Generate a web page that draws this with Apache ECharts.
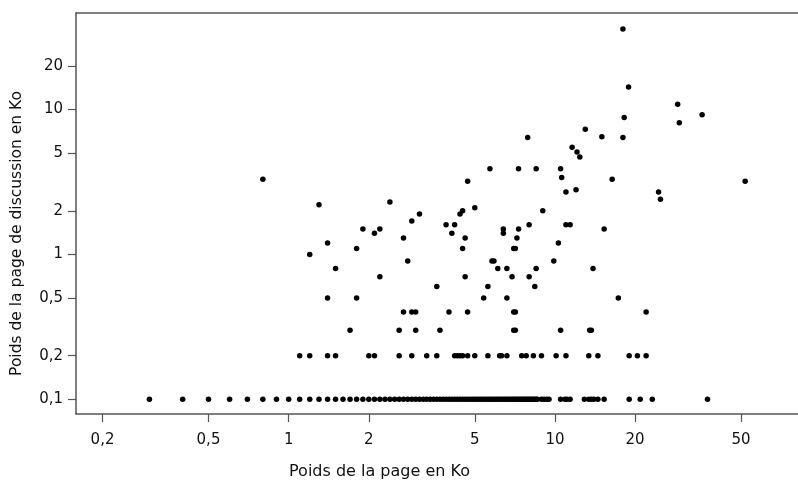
<!DOCTYPE html>
<html>
<head>
<meta charset="utf-8">
<script src="https://cdn.jsdelivr.net/npm/echarts@6/dist/echarts.min.js"></script>
<style>html,body{margin:0;padding:0;background:#fff}#c{width:798px;height:485px}</style>
</head>
<body>
<div id="c"></div>
<script>
// Poids de la page (Ko) for each discussion-page weight (Ko)
const row_0_1 = [0.3,0.4,0.5,0.6,0.7,0.8,0.9,1.0,1.1,1.2,1.3,1.4,1.5,1.6,1.7,1.8,1.9,2.0,2.1,2.2,2.3,2.4,2.5,2.6,2.7,2.8,2.9,3.0,3.1,3.2,3.3,3.4,3.5,3.6,3.7,3.8,3.9,4.0,4.1,4.2,4.3,4.4,4.5,4.6,4.7,4.8,4.9,5.0,5.1,5.2,5.3,5.4,5.5,5.6,5.7,5.8,5.9,6.0,6.1,6.2,6.3,6.4,6.5,6.6,6.7,6.8,6.9,7.0,7.1,7.2,7.3,7.4,7.5,7.6,7.7,7.8,7.9,8.0,8.1,8.2,8.3,8.4,8.5,8.6,8.9,9.1,9.3,9.5,10.5,10.9,11.1,11.4,12.9,13.4,13.7,14.0,14.5,15.3,19.0,20.9,23.2,37.4];
const row_0_2 = [1.1,1.2,1.4,1.5,2.0,2.1,2.6,2.9,3.3,3.6,4.2,4.3,4.4,4.5,4.7,5.0,5.6,6.2,6.3,6.6,7.5,7.8,8.3,8.9,10.1,11.0,13.4,14.5,19.0,20.4,22.0];
const row_0_3 = [1.7,2.6,3.0,3.7,7.0,7.1,10.5,13.5,13.7];
const row_0_4 = [2.7,2.9,3.0,4.0,4.7,7.0,7.1,22.0];
const row_0_5 = [1.4,1.8,5.4,6.6,17.3];
const row_0_6 = [3.6,5.6,8.4];
const row_0_7 = [2.2,4.6,6.9,8.0];
const row_0_8 = [1.5,6.1,6.6,8.5,13.9];
const row_0_9 = [2.8,5.8,5.9,9.9];
const row_1_0 = [1.2];
const row_1_1 = [1.8,4.5,7.0,7.1];
const row_1_2 = [1.4,10.3];
const row_1_3 = [2.7,4.6,7.2];
const row_1_4 = [2.1,4.1,6.4];
const row_1_5 = [1.9,2.2,6.4,7.3,15.3];
const row_1_6 = [3.9,4.2,8.0,11.0,11.4];
const row_1_7 = [2.9];
const row_1_9 = [3.1,4.4];
const row_2_0 = [4.5,9.0];
const row_2_1 = [5.0];
const row_2_2 = [1.3];
const row_2_3 = [2.4];
const row_2_4 = [24.9];
const row_2_7 = [11.0,24.5];
const row_2_8 = [12.0];
const row_3_2 = [4.7,51.8];
const row_3_3 = [0.8,16.4];
const row_3_4 = [10.6];
const row_3_9 = [5.7,7.3,8.5,10.5];
const row_4_7 = [12.4];
const row_5_1 = [12.1];
const row_5_5 = [11.6];
const row_6_4 = [7.9,18.0];
const row_6_5 = [15.0];
const row_7_3 = [13.0];
const row_8_1 = [29.3];
const row_8_8 = [18.2];
const row_9_2 = [35.7];
const row_10_9 = [28.9];
const row_14_3 = [18.9];
const row_36 = [18.0];

const rows = [
  [0.1,row_0_1],[0.2,row_0_2],[0.3,row_0_3],[0.4,row_0_4],[0.5,row_0_5],[0.6,row_0_6],
  [0.7,row_0_7],[0.8,row_0_8],[0.9,row_0_9],[1.0,row_1_0],[1.1,row_1_1],[1.2,row_1_2],
  [1.3,row_1_3],[1.4,row_1_4],[1.5,row_1_5],[1.6,row_1_6],[1.7,row_1_7],[1.9,row_1_9],
  [2.0,row_2_0],[2.1,row_2_1],[2.2,row_2_2],[2.3,row_2_3],[2.4,row_2_4],[2.7,row_2_7],
  [2.8,row_2_8],[3.2,row_3_2],[3.3,row_3_3],[3.4,row_3_4],[3.9,row_3_9],[4.7,row_4_7],
  [5.1,row_5_1],[5.5,row_5_5],[6.4,row_6_4],[6.5,row_6_5],[7.3,row_7_3],[8.1,row_8_1],
  [8.8,row_8_8],[9.2,row_9_2],[10.9,row_10_9],[14.3,row_14_3],[36,row_36]
];

const xTicks = [0.2,0.5,1,2,5,10,20,50];
const yTicks = [0.1,0.2,0.5,1,2,5,10,20];

const points = [];
rows.forEach(([y, xs]) => xs.forEach(x => points.push([x, y])));

const fmt = v => String(+(+v).toPrecision(6)).replace('.', ',');
const FONT = 'DejaVu Sans';
const axisCol = '#555';
const X_MIN = 0.159, X_MAX = 81.8;

const chart = echarts.init(document.getElementById('c'), null, {renderer: 'canvas'});
chart.setOption({
  animation: false,
  grid: {left: 76, top: 13, right: 0, height: 402, show: false},
  xAxis: [{
    type: 'log', min: X_MIN, max: X_MAX,
    name: 'Poids de la page en Ko', nameLocation: 'middle', nameGap: 50,
    nameTextStyle: {fontFamily: FONT, fontSize: 16, color: '#111', padding: [0, 115, 0, 0]},
    axisLine: {show: true, lineStyle: {color: axisCol, width: 1.5}},
    axisTick: {show: true, length: 8, lineStyle: {color: axisCol, width: 1.2}, customValues: xTicks},
    axisLabel: {fontFamily: FONT, fontSize: 15, color: '#111', margin: 19, customValues: xTicks, formatter: fmt},
    splitLine: {show: false}, minorTick: {show: false}
  }, {
    type: 'log', min: X_MIN, max: X_MAX, position: 'top',
    axisLine: {show: true, lineStyle: {color: axisCol, width: 1.5}},
    axisTick: {show: false}, axisLabel: {show: false}, splitLine: {show: false}
  }],
  yAxis: {
    type: 'log', min: 0.0791, max: 46.4,
    name: 'Poids de la page de discussion en Ko', nameLocation: 'middle', nameGap: 51,
    nameTextStyle: {fontFamily: FONT, fontSize: 15.5, color: '#111', padding: [0, 40, 0, 0]},
    axisLine: {show: true, lineStyle: {color: axisCol, width: 1.5}},
    axisTick: {show: true, length: 8, lineStyle: {color: axisCol, width: 1.2}, customValues: yTicks},
    axisLabel: {fontFamily: FONT, fontSize: 15, color: '#111', margin: 13, customValues: yTicks, formatter: fmt},
    splitLine: {show: false}, minorTick: {show: false}
  },
  series: [{
    type: 'scatter', xAxisIndex: 0, data: points, symbol: 'circle', symbolSize: 5.5,
    itemStyle: {color: '#000', opacity: 1}, silent: true
  }]
});
</script>
</body>
</html>
